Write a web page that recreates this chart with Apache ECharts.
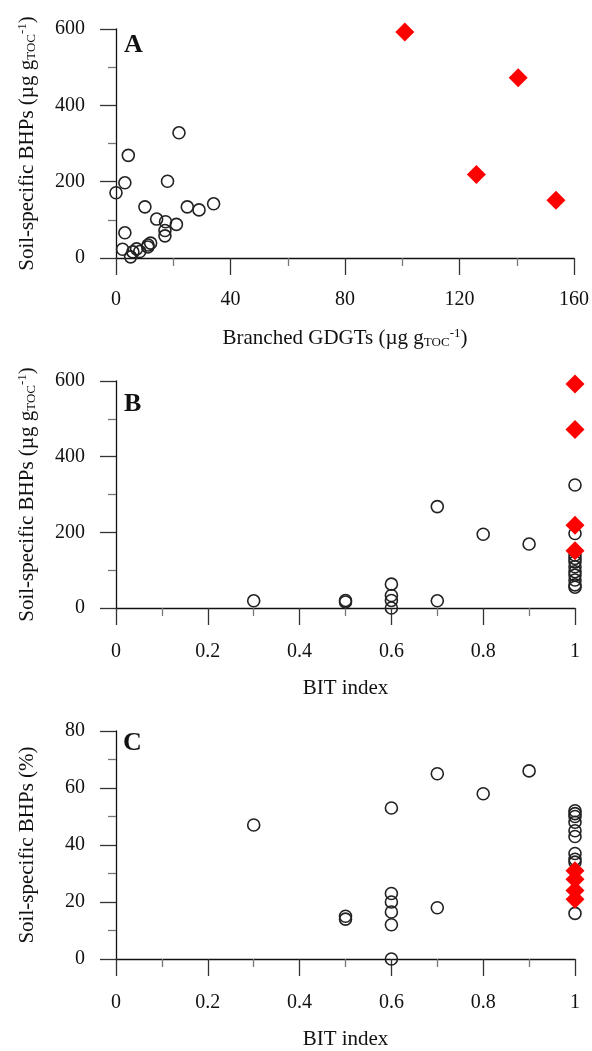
<!DOCTYPE html>
<html><head><meta charset="utf-8">
<script src="https://cdn.jsdelivr.net/npm/echarts@6/dist/echarts.min.js"></script>
<style>html,body{margin:0;padding:0;background:#fff}#c{width:592px;height:1051px}</style>
</head><body><div id="c"></div>
<script>
// Panel A: soil-specific BHPs vs branched GDGTs
const aCircleGdgt = [22.0, 4.3, 3.1, 18.0, 0, 10.1, 24.9, 29.0, 34.1, 14.2, 17.3, 21.1, 17.1, 17.1, 3.1, 2.3, 5.1, 7.2, 8.3, 11.2, 12.1, 11.1, 5.9];
const aCircleBhp  = [328, 269, 197, 201, 171, 134, 134, 126, 142, 102, 95, 88, 72, 58, 66, 23, 3, 24, 17, 34, 39, 29, 16];
const aDiamondGdgt = [100.9, 140.5, 125.9, 153.7];
const aDiamondBhp  = [592, 472, 219, 151];
// Panel B: soil-specific BHPs vs BIT index
const bCircleBit = [0.3, 0.5, 0.5, 0.6, 0.6, 0.6, 0.6, 0.7, 0.7, 0.8, 0.9, 1, 1, 1, 1, 1, 1, 1, 1, 1, 1, 1];
const bCircleBhp = [19, 20, 16, 63, 33, 20, 0, 268, 19, 195, 169, 325, 197, 140, 131, 122, 109, 96, 87, 74, 61, 55];
const bDiamondBit = [1, 1, 1, 1];
const bDiamondBhp = [592, 472, 219, 151];
// Panel C: soil-specific BHPs (%) vs BIT index
const cCircleBit = [0.3, 0.5, 0.5, 0.6, 0.6, 0.6, 0.6, 0.6, 0.6, 0.7, 0.7, 0.8, 0.9, 1, 1, 1, 1, 1, 1, 1, 1, 1, 1];
const cCirclePct = [47, 15, 14, 53, 23, 20, 16.5, 12, 0, 65, 18, 58, 66, 52, 51, 50, 48, 45, 43, 37, 35, 34, 16];
const cDiamondBit = [1, 1, 1, 1];
const cDiamondPct = [31, 28, 24, 21];
// Tick settings
const xTicksA = {min: 0, max: 160, interval: 40};
const xTicksBIT = {min: 0, max: 1, interval: 0.2};
const yTicksBhp = {min: 0, max: 600, interval: 200};
const yTicksPct = {min: 0, max: 80, interval: 20};

const FONT = '"Liberation Serif", "Times New Roman", serif';
const TXT = '#111';
const pair = (xs, ys) => xs.map((x, i) => [x, ys[i]]);

const richName = {
  n: {fontSize: 21, fontFamily: FONT, color: TXT},
  s: {fontSize: 13, fontFamily: FONT, color: TXT, padding: [9, 0, 0, 0]},
  p: {fontSize: 13, fontFamily: FONT, color: TXT, padding: [0, 0, 9, 0]}
};

function xAx(idx, ticks, name, labelMargin, nameGap) {
  return {
    gridIndex: idx, type: 'value', min: ticks.min, max: ticks.max, interval: ticks.interval,
    name: name, nameLocation: 'middle', nameGap: nameGap,
    nameTextStyle: {fontFamily: FONT, fontSize: 21, color: TXT, rich: richName},
    axisLine: {show: true, onZero: false, lineStyle: {color: '#111', width: 1.3}},
    axisTick: {show: true, inside: false, length: 17, lineStyle: {color: '#333', width: 1.3}},
    minorTick: {show: true, splitNumber: 2, length: 8, lineStyle: {color: '#777', width: 1.3}},
    splitLine: {show: false}, minorSplitLine: {show: false},
    axisLabel: {margin: labelMargin, fontFamily: FONT, fontSize: 20, color: TXT,
      formatter: v => String(Math.round(v * 10) / 10)}
  };
}
function yAx(idx, ticks, name, nameGap) {
  return {
    gridIndex: idx, type: 'value', min: ticks.min, max: ticks.max, interval: ticks.interval,
    name: name, nameLocation: 'middle', nameGap: nameGap, nameRotate: 90,
    nameTextStyle: {fontFamily: FONT, fontSize: 21, color: TXT, rich: richName},
    axisLine: {show: true, onZero: false, lineStyle: {color: '#111', width: 1.3}},
    axisTick: {show: true, inside: false, length: 16, lineStyle: {color: '#333', width: 1.3}},
    minorTick: {show: true, splitNumber: 2, length: 8, lineStyle: {color: '#777', width: 1.3}},
    splitLine: {show: false}, minorSplitLine: {show: false},
    axisLabel: {margin: 31, fontFamily: FONT, fontSize: 20, color: TXT}
  };
}
const circleStyle = {color: 'rgba(0,0,0,0)', borderColor: '#222', borderWidth: 1.6, opacity: 1};
const diamondStyle = {color: '#ff0000', opacity: 1};
function circles(i, data) {
  return {type: 'scatter', xAxisIndex: i, yAxisIndex: i, symbol: 'circle', symbolSize: 12,
    itemStyle: circleStyle, data: data, silent: true, z: 2};
}
function diamonds(i, data) {
  return {type: 'scatter', xAxisIndex: i, yAxisIndex: i, symbol: 'diamond', symbolSize: 19,
    itemStyle: diamondStyle, data: data, silent: true, z: 3};
}

const chart = echarts.init(document.getElementById('c'), null, {renderer: 'canvas'});
const bhpName = '{n|Soil-specific BHPs (µg g}{s|TOC}{p|-1}{n|)}';
chart.setOption({
  animation: false,
  backgroundColor: '#ffffff',
  grid: [
    {left: 116, top: 29, width: 459, height: 229},
    {left: 116, top: 381, width: 459, height: 227},
    {left: 116, top: 731, width: 459, height: 229}
  ],
  xAxis: [
    xAx(0, xTicksA, '{n|Branched GDGTs (µg g}{s|TOC}{p|-1}{n|)}', 32, 69),
    xAx(1, xTicksBIT, 'BIT index', 34, 70),
    xAx(2, xTicksBIT, 'BIT index', 34, 70)
  ],
  yAxis: [
    yAx(0, yTicksBhp, bhpName, 78),
    yAx(1, yTicksBhp, bhpName, 78),
    yAx(2, yTicksPct, '{n|Soil-specific BHPs (%)}', 78)
  ],
  series: [
    circles(0, pair(aCircleGdgt, aCircleBhp)),
    diamonds(0, pair(aDiamondGdgt, aDiamondBhp)),
    circles(1, pair(bCircleBit, bCircleBhp)),
    diamonds(1, pair(bDiamondBit, bDiamondBhp)),
    circles(2, pair(cCircleBit, cCirclePct)),
    diamonds(2, pair(cDiamondBit, cDiamondPct))
  ],
  graphic: [
    {type: 'text', left: 124, top: 32, style: {text: 'A', font: 'bold 26px ' + FONT, fill: TXT}},
    {type: 'text', left: 124, top: 391, style: {text: 'B', font: 'bold 26px ' + FONT, fill: TXT}},
    {type: 'text', left: 123, top: 730, style: {text: 'C', font: 'bold 26px ' + FONT, fill: TXT}}
  ]
});
</script>
</body></html>
